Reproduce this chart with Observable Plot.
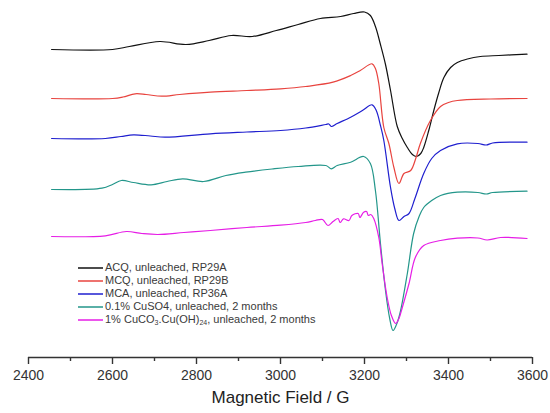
<!DOCTYPE html>
<html>
<head>
<meta charset="utf-8">
<script src="https://cdn.jsdelivr.net/npm/d3@7"></script>
<script src="https://cdn.jsdelivr.net/npm/@observablehq/plot@0.6"></script>
<style>
  html, body { margin: 0; padding: 0; background: #fff; }
  #wrap { position: relative; width: 550px; height: 413px; font-family: "Liberation Sans", Arial, sans-serif; }
  #legend { position: absolute; left: 78px; top: 261px; font-size: 11px; color: #3a3a3a; }
  #legend .row { height: 13px; line-height: 13px; display: flex; align-items: center; white-space: nowrap; }
  #legend svg { flex: none; margin-right: 2px; }
  #legend sub { font-size: 7px; vertical-align: -2px; line-height: 0; }
</style>
</head>
<body>
<div id="wrap"><div id="legend"></div></div>
<script>
// Series names, colours and labels
const seriesNames = ["ACQ", "MCQ", "MCA", "CuSO4", "CuCO3"];
const seriesColors = ["#111111", "#e8443f", "#1f1fcf", "#23968a", "#e61ee6"];
const legendLabels = [
  "ACQ, unleached, RP29A",
  "MCQ, unleached, RP29B",
  "MCA, unleached, RP36A",
  "0.1% CuSO4, unleached, 2 months",
  "1% CuCO<sub>3</sub>.Cu(OH)<sub>24</sub>, unleached, 2 months"
];
// vertical offsets (arbitrary intensity units) used to stack the spectra
const seriesOffsets = [308, 259, 219, 168, 121];

// Magnetic field (G) and EPR signal (arbitrary units) for each spectrum
const acqField = [2455,2600,2640,2713,2775,2830,2883,2933,2990,3042,3095,3143,3174,3200,3214,3226,3238,3250,3262,3278,3290,3302,3314,3324,3334,3341,3353,3365,3377,3389,3405,3421,3445,3476,3520,3587];
const acqSignal = [0,0,3,8,5,9,14,13,19,25,31,33,36,37.5,34,23,5,-15,-41,-77,-89,-98,-105,-107,-104,-98,-81,-61,-43,-28,-18,-13,-9.5,-7,-6,-4.7];

const mcqField = [2455,2600,2625,2654,2680,2717,2760,2833,2920,3000,3060,3125,3167,3190,3218,3226,3234,3246,3258,3270,3282,3294,3310,3322,3333,3357,3381,3400,3421,3500,3587];
const mcqSignal = [0,0,1.5,4.7,4,2.3,4,6.3,8,9.7,12,16.3,23,28,34.7,30,15,-29,-45,-69,-85,-75,-72,-60,-45,-22,-8,-4,-2,-0.5,0];

const mcaField = [2455,2583,2620,2650,2690,2725,2833,2920,3000,3060,3108,3115,3121,3135,3167,3195,3218,3228,3238,3246,3262,3272,3282,3294,3306,3320,3341,3360,3381,3421,3470,3490,3505,3587];
const mcaSignal = [0,0,2,3.7,2.5,1.3,4.7,6.5,8,10.5,14,14.5,12,15,21.3,28,33.7,28,13,-2,-49,-70,-82,-78,-75,-60,-35,-20,-12,-5.3,-5,-6.5,-4.5,-3.7];

const cuso4Field = [2455,2575,2600,2621,2650,2692,2730,2767,2817,2870,2917,2980,3042,3108,3121,3135,3167,3198,3214,3226,3238,3250,3260,3268,3278,3286,3302,3317,3330,3341,3360,3381,3421,3470,3490,3505,3587];
const cuso4Signal = [0,1.3,5,9,7,4.7,8,10.7,8,14,17.3,20.5,23,24,20.7,24,27.3,33,26,-1,-54,-101,-129,-141,-133,-121,-84,-44,-27,-18,-11,-6,-2.7,-3,-4.5,-3,-1.7];

const cuco3Field = [2455,2583,2633,2670,2708,2770,2833,2920,3000,3060,3083,3100,3113,3125,3137,3142,3150,3163,3170,3185,3189,3198,3205,3209,3215,3222,3234,3242,3254,3264,3274,3282,3290,3306,3321,3341,3381,3421,3470,3492,3524,3587];
const cuco3Signal = [0,0.7,5,3,2,4,6,9,11.3,14,16,17,11,15,18,14,17.7,16,21,23,19,24.3,25,21,22,18,-1,-27,-61,-79,-87,-82,-71,-47,-21,-9,-4,-1.7,-1.5,-3.5,-1,-2];

// Axis ticks and label
const majorTicks = [2400, 2600, 2800, 3000, 3200, 3400, 3600];
const minorTicks = [2500, 2700, 2900, 3100, 3300, 3500];
const xLabel = "Magnetic Field / G";

const fields = [acqField, mcqField, mcaField, cuso4Field, cuco3Field];
const signals = [acqSignal, mcqSignal, mcaSignal, cuso4Signal, cuco3Signal];

const rows = [];
seriesNames.forEach((name, i) => {
  fields[i].forEach((f, j) => rows.push({series: name, field: f, value: seriesOffsets[i] + signals[i][j]}));
});

const chart = Plot.plot({
  width: 550,
  height: 413,
  marginLeft: 28,
  marginRight: 18,
  marginTop: 0,
  marginBottom: 56,
  x: {domain: [2400, 3600]},
  y: {domain: [0, 357], axis: null},
  color: {domain: seriesNames, range: seriesColors},
  style: {fontFamily: "'Liberation Sans', Arial, sans-serif", background: "white", color: "#333", overflow: "visible"},
  marks: [
    Plot.line(rows, {x: "field", y: "value", z: "series", stroke: "series", strokeWidth: 1.2, curve: "catmull-rom"}),
    Plot.ruleY([0], {x1: 2400, x2: 3600, stroke: "#333", strokeWidth: 1.4}),
    Plot.axisX({ticks: majorTicks, tickSize: 7, tickPadding: 6, fontSize: 14, tickFormat: d => String(d), label: null, strokeWidth: 1.4}),
    Plot.axisX({ticks: minorTicks, tickSize: 4, tickFormat: () => "", label: null, strokeWidth: 1.4}),
    Plot.text([xLabel], {frameAnchor: "bottom", dy: 45, fontSize: 17, fill: "#222"})
  ]
});

const wrap = document.getElementById("wrap");
wrap.insertBefore(chart, wrap.firstChild);

const svgNS = "http://www.w3.org/2000/svg";
const legend = document.getElementById("legend");
legendLabels.forEach((lab, i) => {
  const row = document.createElement("div");
  row.className = "row";
  const sw = document.createElementNS(svgNS, "svg");
  sw.setAttribute("width", "25");
  sw.setAttribute("height", "4");
  const ln = document.createElementNS(svgNS, "line");
  ln.setAttribute("x1", "0"); ln.setAttribute("x2", "25");
  ln.setAttribute("y1", "2"); ln.setAttribute("y2", "2");
  ln.setAttribute("stroke", seriesColors[i]);
  ln.setAttribute("stroke-width", "1.5");
  sw.appendChild(ln);
  const t = document.createElement("span");
  t.innerHTML = lab;
  row.appendChild(sw);
  row.appendChild(t);
  legend.appendChild(row);
});
</script>
</body>
</html>
